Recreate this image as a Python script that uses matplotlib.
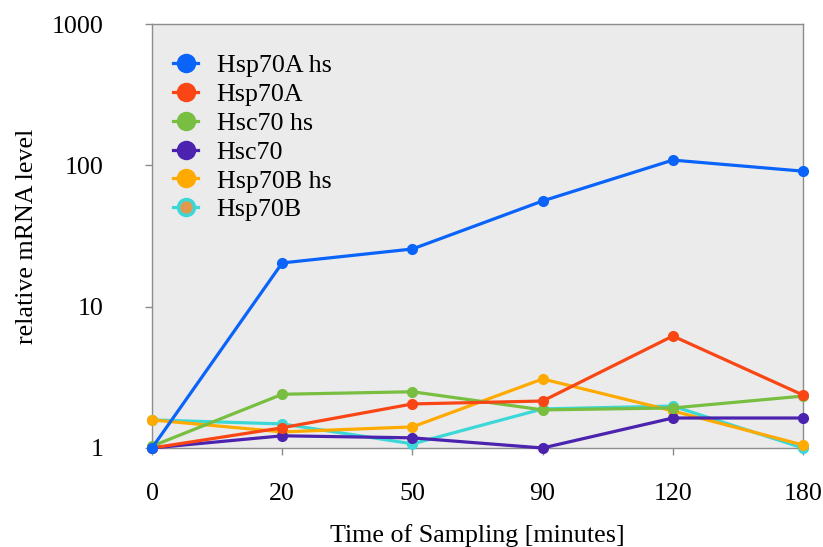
import numpy as np
import matplotlib.pyplot as plt
from matplotlib.lines import Line2D

# sampling times (plotted as evenly spaced categories)
times = ['0', '20', '50', '90', '120', '180']

hsp70a_hs = [1.0, 20.4, 25.6, 56.0, 109.0, 91.0]
hsp70a = [1.0, 1.39, 2.05, 2.15, 6.2, 2.37]
hsc70_hs = [1.03, 2.4, 2.5, 1.86, 1.92, 2.33]
hsc70 = [1.0, 1.22, 1.18, 1.0, 1.63, 1.63]
hsp70b_hs = [1.58, 1.30, 1.41, 3.08, 1.83, 1.05]
hsp70b = [1.58, 1.48, 1.07, 1.89, 1.98, 1.0]

names = ['Hsp70A hs', 'Hsp70A', 'Hsc70 hs', 'Hsc70', 'Hsp70B hs', 'Hsp70B']
series = [hsp70a_hs, hsp70a, hsc70_hs, hsc70, hsp70b_hs, hsp70b]
colors = ['#0A64FA', '#FA4614', '#78BE41', '#4B23AF', '#FFAA00', '#3CD7D7']

plt.rcParams['font.family'] = ['Liberation Serif', 'DejaVu Serif']
fs = 18.7

fig = plt.figure(figsize=(8.23, 5.47), dpi=100)
ax = fig.add_axes([0.1847, 0.181, 0.7910, 0.775])
ax.set_facecolor('#EBEBEB')

x = np.arange(len(times))
# draw from the back so the first series ends on top
order = [3, 2, 4, 5, 1, 0]
for i in order:
    ax.plot(x, series[i], color=colors[i], lw=2.3, marker='o', ms=7,
            clip_on=False, zorder=3 + (5 - i))

ax.set_yscale('log')
ax.set_ylim(1, 1000)
ax.set_xlim(0, len(times) - 1)
ax.set_yticks([1, 10, 100, 1000])
ax.set_yticklabels(['1', '10', '100', '1000'])
ax.yaxis.set_minor_locator(plt.NullLocator())
ax.set_xticks(x)
ax.set_xticklabels(times)

for s in ax.spines.values():
    s.set_color('#8C8C8C')
    s.set_linewidth(1.0)
ax.tick_params(axis='both', colors='#8C8C8C', labelcolor='black', labelsize=fs,
               length=5, width=1.0, direction='out')
ax.tick_params(axis='x', pad=20)
ax.tick_params(axis='y', pad=30)

ax.set_xlabel('Time of Sampling [minutes]', fontsize=fs, labelpad=14)
ax.set_ylabel('relative mRNA level', fontsize=fs, labelpad=10)

handles = []
for i, name in enumerate(names):
    face = '#E09A50' if name == 'Hsp70B' else colors[i]
    handles.append(Line2D([0], [0], color=colors[i], lw=2.3, marker='o', ms=11.5,
                          markerfacecolor=face, markeredgecolor=colors[i],
                          markeredgewidth=2.5, label=name))
leg = ax.legend(handles=handles, loc='upper left', bbox_to_anchor=(-0.003, 0.985),
                frameon=False, fontsize=fs, handlelength=0.95, handletextpad=0.72,
                labelspacing=0.22, borderaxespad=0.5)

fig.savefig('out.png', dpi=100)
